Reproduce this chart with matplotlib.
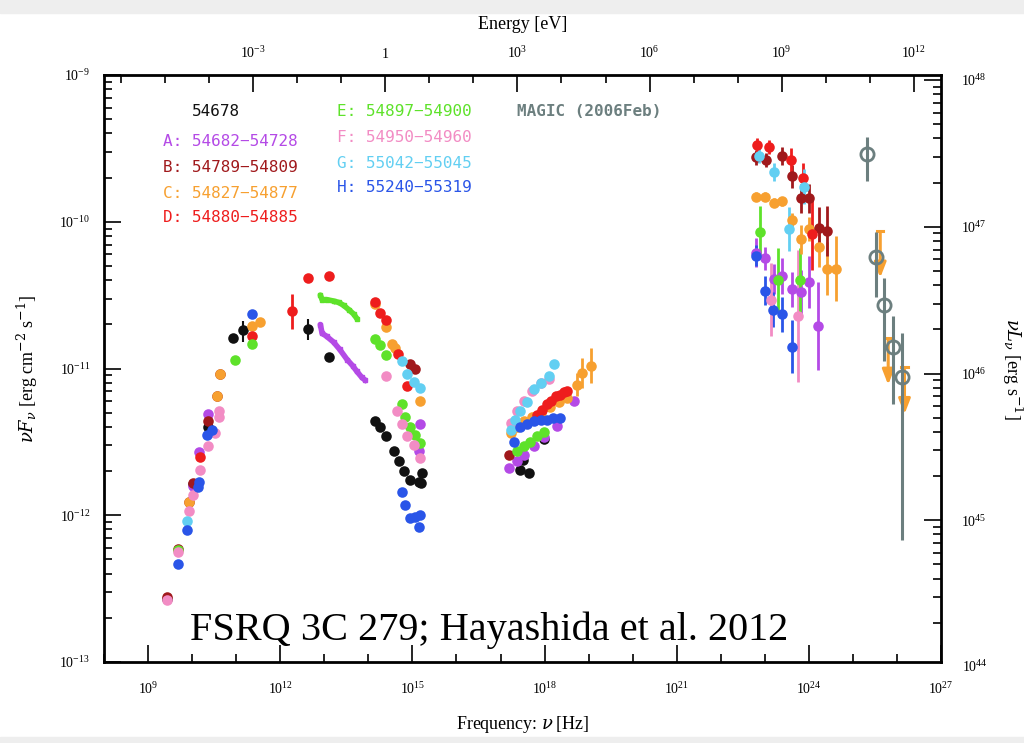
import numpy as np
import matplotlib
matplotlib.use("Agg")
from matplotlib import pyplot as plt
from matplotlib import ticker
from matplotlib.patches import Rectangle

plt.rcParams['mathtext.fontset'] = 'dejavuserif'
plt.rcParams['font.family'] = ['Liberation Serif', 'DejaVu Serif']

# all values are log10(nu [Hz]) and log10(nuFnu [erg cm^-2 s^-1])
# 54678
blk_x = [9.42, 10.02, 10.36, 10.93, 11.15, 12.62, 13.10,
         14.14, 14.26, 14.39, 14.58, 14.69, 14.80, 14.95, 15.14, 15.22, 15.20,
         17.45, 17.64, 17.98, 17.50]
blk_y = [-12.57, -11.79, -11.40, -10.79, -10.74, -10.73, -10.92,
         -11.36, -11.40, -11.46, -11.56, -11.63, -11.70, -11.76, -11.77, -11.71, -11.78,
         -11.69, -11.71, -11.48, -11.62]

# A: 54682-54728
a_x = [10.02, 10.16, 10.35, 15.18, 15.14, 17.19, 17.38, 17.53, 17.75, 17.98, 18.29, 18.67]
a_y = [-11.80, -11.57, -11.31, -11.38, -11.56, -11.68, -11.63, -11.59, -11.53, -11.47, -11.39, -11.22]
a_ir_x = [12.91, 12.95, 13.05, 13.21, 13.35, 13.52, 13.64, 13.74, 13.85, 13.93]
a_ir_y = [-10.70, -10.76, -10.78, -10.82, -10.87, -10.94, -10.98, -11.02, -11.06, -11.08]
a_g_x = [22.80, 23.00, 23.20, 23.40, 23.61, 23.82, 24.01, 24.21]
a_g_y = [-10.21, -10.25, -10.39, -10.37, -10.46, -10.48, -10.41, -10.71]
a_g_e = [0.10, 0.08, 0.10, 0.12, 0.12, 0.15, 0.18, 0.30]

# B: 54789-54809
b_x = [9.42, 9.69, 9.92, 10.02, 10.36, 10.56, 10.64, 14.95, 15.07, 17.19]
b_y = [-12.56, -12.23, -11.91, -11.78, -11.36, -11.19, -11.04, -10.97, -11.00, -11.59]
b_g_x = [22.80, 23.02, 23.40, 23.61, 23.82, 24.01, 24.22, 24.42]
b_g_y = [-9.56, -9.58, -9.55, -9.69, -9.84, -9.84, -10.04, -10.06]
b_g_e = [0.05, 0.05, 0.06, 0.08, 0.10, 0.10, 0.14, 0.17]

# C: 54827-54877
c_x = [9.92, 10.56, 10.64, 11.36, 11.55, 14.14, 14.40, 14.54, 14.61, 15.18,
       17.23, 17.38, 17.53, 17.72, 17.91, 18.12, 18.33, 18.50]
c_y = [-11.91, -11.19, -11.04, -10.71, -10.68, -10.56, -10.72, -10.83, -10.86, -11.22,
       -11.44, -11.40, -11.36, -11.33, -11.30, -11.26, -11.23, -11.20]
c_hx_x = [18.73, 18.86, 19.05]
c_hx_y = [-11.11, -11.03, -10.98]
c_hx_e = [0.08, 0.10, 0.12]
c_g_x = [22.80, 23.00, 23.21, 23.40, 23.62, 23.82, 24.01, 24.22, 24.41, 24.61]
c_g_y = [-9.83, -9.83, -9.87, -9.86, -9.99, -10.12, -10.05, -10.17, -10.32, -10.32]
c_g_e = [0.03, 0.03, 0.03, 0.03, 0.05, 0.10, 0.08, 0.14, 0.18, 0.22]
c_ul_x = [25.62, 25.80, 26.17]
c_ul_y = [-10.06, -10.79, -10.99]

# D: 54880-54885
d_x = [10.17, 11.36, 12.62, 13.10, 14.14, 14.27, 14.40, 14.67, 14.88,
       17.83, 17.95, 18.05, 18.15, 18.25, 18.35, 18.43, 18.51]
d_y = [-11.60, -10.78, -10.38, -10.37, -10.55, -10.62, -10.67, -10.90, -11.12,
       -11.32, -11.28, -11.24, -11.22, -11.19, -11.18, -11.16, -11.15]
d_err_x = [12.27]
d_err_y = [-10.61]
d_g_x = [22.83, 23.10, 23.59, 23.86, 24.08]
d_g_y = [-9.48, -9.49, -9.58, -9.70, -10.08]
d_g_e = [0.05, 0.05, 0.08, 0.10, 0.25]

# E: 54897-54900
e_x = [9.69, 10.98, 11.36, 14.14, 14.27, 14.40, 14.77, 14.84, 14.95, 15.07, 15.18,
       17.38, 17.53, 17.68, 17.83, 17.98]
e_y = [-12.24, -10.94, -10.83, -10.80, -10.84, -10.91, -11.24, -11.33, -11.40, -11.45, -11.51,
       -11.56, -11.53, -11.50, -11.46, -11.43]
e_ir_x = [12.91, 12.95, 13.05, 13.21, 13.33, 13.44, 13.56, 13.67, 13.74]
e_ir_y = [-10.50, -10.53, -10.53, -10.54, -10.55, -10.57, -10.60, -10.63, -10.66]
e_g_x = [22.89, 23.30, 23.80]
e_g_y = [-10.07, -10.40, -10.40]
e_g_e = [0.18, 0.22, 0.22]

# F: 54950-54960
f_x = [9.42, 9.69, 9.92, 10.02, 10.17, 10.36, 10.51, 10.62, 10.60,
       14.40, 14.65, 14.77, 14.88, 15.03, 15.18,
       17.23, 17.38, 17.53, 17.72, 17.91, 18.10]
f_y = [-12.58, -12.25, -11.97, -11.86, -11.69, -11.53, -11.44, -11.29, -11.33,
       -11.05, -11.29, -11.38, -11.46, -11.52, -11.61,
       -11.37, -11.29, -11.22, -11.15, -11.10, -11.07]
f_g_x = [23.15, 23.76]
f_g_y = [-10.53, -10.64]
f_g_e = [0.25, 0.45]

# G: 55042-55045
g_x = [9.89, 14.77, 14.88, 15.03, 15.18,
       17.23, 17.34, 17.45, 17.61, 17.76, 17.91, 18.10, 18.21]
g_y = [-12.04, -10.95, -11.04, -11.09, -11.13,
       -11.42, -11.35, -11.29, -11.23, -11.14, -11.10, -11.05, -10.97]
g_g_x = [22.87, 23.21, 23.55, 23.88]
g_g_y = [-9.55, -9.66, -10.05, -9.76]
g_g_e = [0.05, 0.06, 0.15, 0.12]

# H: 55240-55319
h_x = [9.69, 9.89, 10.14, 10.16, 10.33, 10.45, 11.36,
       14.77, 14.84, 14.95, 15.07, 15.18, 15.14,
       17.30, 17.45, 17.60, 17.75, 17.91, 18.05, 18.20, 18.36]
h_y = [-12.33, -12.10, -11.81, -11.77, -11.45, -11.42, -10.63,
       -11.84, -11.93, -12.02, -12.01, -12.00, -12.08,
       -11.50, -11.40, -11.38, -11.36, -11.35, -11.35, -11.34, -11.34]
h_g_x = [22.80, 23.00, 23.19, 23.40, 23.61]
h_g_y = [-10.23, -10.47, -10.60, -10.63, -10.85]
h_g_e = [0.07, 0.10, 0.12, 0.12, 0.18]

# MAGIC (2006Feb)
magic_x = [25.33, 25.52, 25.71, 25.90, 26.11]
magic_y = [-9.54, -10.24, -10.57, -10.85, -11.06]
magic_lo = [0.18, 0.27, 0.38, 0.39, 1.11]
magic_hi = [0.12, 0.17, 0.19, 0.21, 0.30]

labels = ['54678', 'A: 54682\u221254728', 'B: 54789\u221254809', 'C: 54827\u221254877',
          'D: 54880\u221254885', 'E: 54897\u221254900', 'F: 54950\u221254960',
          'G: 55042\u221255045', 'H: 55240\u221255319']
colors = ['#111111', '#b44ae6', '#a0191c', '#f7a030', '#ee1d1d',
          '#5ee22a', '#f28cc4', '#62cff2', '#2a55e8']
magic_color = '#6c7f7f'

nu_ticks = [1e9, 1e12, 1e15, 1e18, 1e21, 1e24, 1e27]
e_ticks = [1e-3, 1.0, 1e3, 1e6, 1e9, 1e12]
e_ticklabels = [r'$\mathdefault{10^{-3}}$', '1', r'$\mathdefault{10^{3}}$',
                r'$\mathdefault{10^{6}}$', r'$\mathdefault{10^{9}}$', r'$\mathdefault{10^{12}}$']
f_ticks = [1e-13, 1e-12, 1e-11, 1e-10, 1e-9]
l_ticks = [1e44, 1e45, 1e46, 1e47, 1e48]

lum_factor = 10 ** 57.034   # nuL_nu / nuF_nu
h_ev = 4.1357e-15           # eV s

fig = plt.figure(figsize=(10.24, 7.43), dpi=100)
fig.patches.append(Rectangle((0, 0.983), 1, 0.017, transform=fig.transFigure,
                             color='#eeeeee', zorder=-5))
fig.patches.append(Rectangle((0, 0), 1, 0.008, transform=fig.transFigure,
                             color='#eeeeee', zorder=-5))
ax = fig.add_axes([0.1016, 0.109, 0.8174, 0.790])
ax.set_xscale('log')
ax.set_yscale('log')
ax.set_xlim(1e8, 1e27)
ax.set_ylim(1e-13, 1e-9)

MS = 7.6


def pts(lx, ly, col, z=3):
    ax.plot(10 ** np.array(lx), 10 ** np.array(ly), 'o', color=col, ms=MS, mec='none', zorder=z)


def gam(lx, ly, le, col, z=3):
    lx, ly, le = np.array(lx), np.array(ly), np.array(le)
    y = 10 ** ly
    yerr = [y - 10 ** (ly - le), 10 ** (ly + le) - y]
    ax.errorbar(10 ** lx, y, yerr=yerr, fmt='o', color=col, ms=MS, mec='none',
                elinewidth=2, capsize=0, zorder=z)


def spec(lx, ly, col):
    x, y = 10 ** np.array(lx), 10 ** np.array(ly)
    ax.plot(x, y, '-', color=col, lw=4, zorder=3, solid_capstyle='round')
    ax.errorbar(x, y, yerr=[y * 0.04, y * 0.04], fmt='s', color=col, ms=2.5,
                elinewidth=1, capsize=0, zorder=3)


# synchrotron and X-ray data
pts(blk_x, blk_y, colors[0])
ax.errorbar(10 ** np.array([11.15, 12.62]), 10 ** np.array([-10.74, -10.73]),
            yerr=[[3e-12, 3e-12], [3e-12, 3e-12]], fmt='none', ecolor=colors[0], elinewidth=1.5)
pts(a_x, a_y, colors[1])
spec(a_ir_x, a_ir_y, colors[1])
pts(b_x, b_y, colors[2])
pts(c_x, c_y, colors[3])
gam(c_hx_x, c_hx_y, c_hx_e, colors[3])
pts(d_x, d_y, colors[4])
gam(d_err_x, d_err_y, [0.12], colors[4])
pts(e_x, e_y, colors[5])
spec(e_ir_x, e_ir_y, colors[5])
pts(f_x, f_y, colors[6])
pts(g_x, g_y, colors[7])
pts(h_x, h_y, colors[8])

# Fermi-LAT spectra
gam(a_g_x, a_g_y, a_g_e, colors[1])
gam(h_g_x, h_g_y, h_g_e, colors[8])
gam(f_g_x, f_g_y, f_g_e, colors[6])
gam(e_g_x, e_g_y, e_g_e, colors[5])
gam(c_g_x, c_g_y, c_g_e, colors[3])
gam(b_g_x, b_g_y, b_g_e, colors[2])
gam(d_g_x, d_g_y, d_g_e, colors[4])
gam(g_g_x, g_g_y, g_g_e, colors[7])

# upper limits
for lx, ly in zip(c_ul_x, c_ul_y):
    x = 10 ** lx
    ax.annotate('', xy=(x, 10 ** (ly - 0.34)), xytext=(x, 10 ** ly),
                arrowprops=dict(arrowstyle='-|>,head_length=0.9,head_width=0.35',
                                color=colors[3], lw=2.2), zorder=4)
    ax.plot([10 ** (lx - 0.07), 10 ** (lx + 0.07)], [10 ** ly] * 2, color=colors[3], lw=2.2, zorder=4)

# MAGIC
my = 10 ** np.array(magic_y)
ax.errorbar(10 ** np.array(magic_x), my,
            yerr=[my - my / 10 ** np.array(magic_lo), my * 10 ** np.array(magic_hi) - my],
            fmt='o', mfc='none', mec=magic_color, mew=2, ms=9.5, ecolor=magic_color,
            elinewidth=2.2, capsize=0, zorder=5)

# axes decoration
for s in ax.spines.values():
    s.set_linewidth(2)
ax.xaxis.set_major_locator(ticker.FixedLocator(nu_ticks))
ax.xaxis.set_minor_locator(ticker.FixedLocator(10.0 ** np.arange(8, 28)))
ax.yaxis.set_major_locator(ticker.FixedLocator(f_ticks))
ax.yaxis.set_minor_locator(ticker.LogLocator(base=10, subs=np.arange(2, 10), numticks=10))
ax.xaxis.set_major_formatter(ticker.LogFormatterMathtext())
ax.yaxis.set_major_formatter(ticker.LogFormatterMathtext())
ax.xaxis.set_minor_formatter(ticker.NullFormatter())
ax.yaxis.set_minor_formatter(ticker.NullFormatter())
ax.tick_params(which='major', direction='in', length=12, width=1.2, labelsize=10)
ax.tick_params(which='minor', direction='in', length=6, width=1.2)
ax.tick_params(axis='x', which='major', pad=14)
ax.tick_params(axis='y', which='major', pad=10)
ax.set_xlabel(r'Frequency: $\nu\,$[Hz]', fontsize=13, labelpad=12)
ax.set_ylabel(r'$\nu F_\nu$ [erg cm$^{-2}$ s$^{-1}$]', fontsize=13, labelpad=14)

top = ax.secondary_xaxis('top', functions=(lambda nu: nu * h_ev, lambda e: e / h_ev))
top.xaxis.set_major_locator(ticker.FixedLocator(e_ticks))
top.xaxis.set_minor_locator(ticker.FixedLocator(10.0 ** np.arange(-6, 13)))
top.xaxis.set_major_formatter(ticker.FixedFormatter(e_ticklabels))
top.xaxis.set_minor_formatter(ticker.NullFormatter())
top.tick_params(which='major', direction='in', length=12, width=1.2, labelsize=10, pad=10)
top.tick_params(which='minor', direction='in', length=6, width=1.2)
top.set_xlabel('Energy [eV]', fontsize=13, labelpad=12)

right = ax.secondary_yaxis('right', functions=(lambda f: f * lum_factor, lambda l: l / lum_factor))
right.yaxis.set_major_locator(ticker.FixedLocator(l_ticks))
right.yaxis.set_minor_locator(ticker.LogLocator(base=10, subs=np.arange(2, 10), numticks=10))
right.yaxis.set_major_formatter(ticker.LogFormatterMathtext())
right.yaxis.set_minor_formatter(ticker.NullFormatter())
right.tick_params(which='major', direction='in', length=12, width=1.2, labelsize=10, pad=14)
right.tick_params(which='minor', direction='in', length=6, width=1.2)
right.set_ylabel(r'$\nu L_\nu$ [erg s$^{-1}$]', fontsize=13, rotation=270, labelpad=28)
# the lowest luminosity decade sits just below the frame
ax.annotate(r'$\mathdefault{10^{44}}$', xy=(1.0, l_ticks[0] / lum_factor),
            xycoords=('axes fraction', 'data'), xytext=(15, 0), textcoords='offset points',
            fontsize=10, va='center', ha='left', annotation_clip=False)

# period labels
lab_pos = [(192, 111), (163, 142), (163, 167), (163, 193), (163, 218),
           (337, 112), (337, 138), (337, 163), (337, 188)]
for (px, py), txt, col in zip(lab_pos, labels, colors):
    fig.text(px / 1024, 1 - py / 743, txt, color=col, fontsize=11.5,
             family='DejaVu Sans Mono', va='center', ha='left')
fig.text(517 / 1024, 1 - 112 / 743, 'MAGIC (2006Feb)', color=magic_color, fontsize=11.5,
         family='DejaVu Sans Mono', fontweight='bold', va='center', ha='left')

fig.text(190 / 1024, 1 - 640 / 743, 'FSRQ 3C 279; Hayashida et al. 2012', fontsize=29,
         family='Liberation Serif', color='black', va='baseline', ha='left', zorder=10)

fig.savefig('out.png', dpi=100)
